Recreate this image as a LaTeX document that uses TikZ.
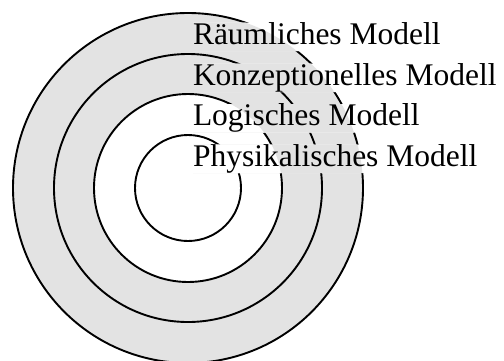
\documentclass[tikz,border=0pt]{standalone}
\usepackage{fontspec}
\setmainfont{Liberation Serif}
\definecolor{ringgray}{HTML}{E3E3E3}
\tikzset{
  ringline/.style={line width=1.9pt, draw=black},
  lbl/.style={anchor=base west, inner sep=0pt, outer sep=0pt, text height=21.5pt, text depth=7pt, font=\fontsize{31.5}{38}\selectfont},
}
\newcommand{\ringfills}{%
  \fill[ringgray] (c) circle[radius=175];
  \fill[white] (c) circle[radius=94];
}
\begin{document}
\begin{tikzpicture}[x=1pt, y=-1pt]
\useasboundingbox (0,0) rectangle (504,360);
\coordinate (c) at (188,188);
\ringfills
\draw[ringline] (c) circle[radius=175];
\draw[ringline] (c) circle[radius=134];
\draw[ringline] (c) circle[radius=94];
\draw[ringline] (c) circle[radius=53];
\path (193,44) node[lbl] (t1) {Räumliches Modell};
\path (193,85) node[lbl] (t2) {Konzeptionelles Modell};
\path (193,125.5) node[lbl] (t3) {Logisches Modell};
\path (193,166) node[lbl] (t4) {Physikalisches Modell};
\begin{scope}
  \clip (t1.south west) rectangle (t1.north east)
        (t2.south west) rectangle (t2.north east)
        (t3.south west) rectangle (t3.north east)
        (t4.south west) rectangle (t4.north east);
  \fill[white] (0,0) rectangle (504,360);
  \ringfills
\end{scope}
\path (193,44) node[lbl] {Räumliches Modell};
\path (193,85) node[lbl] {Konzeptionelles Modell};
\path (193,125.5) node[lbl] {Logisches Modell};
\path (193,166) node[lbl] {Physikalisches Modell};
\end{tikzpicture}
\end{document}
